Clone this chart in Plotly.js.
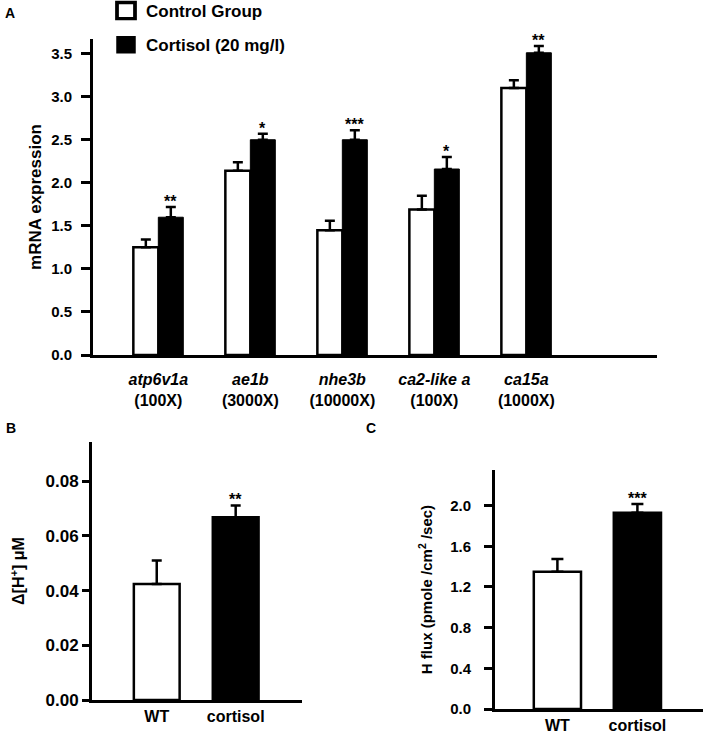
<!DOCTYPE html>
<html><head><meta charset="utf-8">
<script src="https://cdn.plot.ly/plotly-3.0.1.min.js"></script>
<style>body{margin:0;padding:0;background:#fff}#chart{width:708px;height:735px}</style>
</head><body><div id="chart"></div>
<script>
// Panel A data
const genes = ['atp6v1a','ae1b','nhe3b','ca2-like a','ca15a'];
const folds = ['(100X)','(3000X)','(10000X)','(100X)','(1000X)'];
const controlMean = [1.25,2.14,1.45,1.69,3.10];
const controlErr  = [0.09,0.10,0.11,0.16,0.09];
const cortisolMean = [1.60,2.50,2.50,2.16,3.51];
const cortisolErr  = [0.12,0.07,0.11,0.14,0.08];
const sigA = ['**','*','***','*','**'];
// Panel B data
const groupsBC = ['WT','cortisol'];
const hConc = [0.0424,0.0668];
const hConcErr = [0.0086,0.0043];
const sigB = ['','**'];
// Panel C data
const hFlux = [1.35,1.93];
const hFluxErr = [0.125,0.085];
const sigC = ['','***'];

const FONT = 'Liberation Sans, Arial, Helvetica, sans-serif';
const W = 708, H = 735;
const px = v => v / W, py = v => 1 - v / H;
const bfont = s => ({family: FONT, size: s, color: '#000', weight: 'bold'});
const zeros = n => new Array(n).fill(0);

const traces = [
  {type:'bar', name:'Control Group', x:genes, y:controlMean, xaxis:'x', yaxis:'y',
   marker:{color:'#fff', line:{color:'#000', width:2.5}},
   error_y:{type:'data', symmetric:false, array:controlErr, arrayminus:zeros(genes.length), color:'#000', thickness:2.5, width:5},
   legendgroup:'a'},
  {type:'bar', name:'Cortisol (20 mg/l)', x:genes, y:cortisolMean, xaxis:'x', yaxis:'y',
   marker:{color:'#000', line:{color:'#000', width:1}},
   error_y:{type:'data', symmetric:false, array:cortisolErr, arrayminus:zeros(genes.length), color:'#000', thickness:2.5, width:5},
   legendgroup:'b'},
  {type:'bar', x:groupsBC, y:hConc, xaxis:'x2', yaxis:'y2', width:0.58, showlegend:false,
   marker:{color:['#fff','#000'], line:{color:'#000', width:2.5}},
   error_y:{type:'data', symmetric:false, array:hConcErr, arrayminus:zeros(2), color:'#000', thickness:2.5, width:5}},
  {type:'bar', x:groupsBC, y:hFlux, xaxis:'x3', yaxis:'y3', width:0.59, showlegend:false,
   marker:{color:['#fff','#000'], line:{color:'#000', width:2.5}},
   error_y:{type:'data', symmetric:false, array:hFluxErr, arrayminus:zeros(2), color:'#000', thickness:2.5, width:6}}
];

const ann = [];
genes.forEach((g,i)=>{
  ann.push({x:i+0.135, y:cortisolMean[i]+cortisolErr[i], xref:'x', yref:'y', text:sigA[i], showarrow:false,
    yanchor:'bottom', font:bfont(16), yshift:-5});
});
groupsBC.forEach((g,i)=>{
  if(sigB[i]) ann.push({x:i, y:hConc[i]+hConcErr[i], xref:'x2', yref:'y2', text:sigB[i], showarrow:false, yanchor:'bottom', font:bfont(16), yshift:-5});
  if(sigC[i]) ann.push({x:i, y:hFlux[i]+hFluxErr[i], xref:'x3', yref:'y3', text:sigC[i], showarrow:false, yanchor:'bottom', font:bfont(16), yshift:-5});
});
ann.push({x:px(10), y:py(13), xref:'paper', yref:'paper', text:'A', showarrow:false, xanchor:'center', yanchor:'middle', font:bfont(14)});
ann.push({x:px(11), y:py(428), xref:'paper', yref:'paper', text:'B', showarrow:false, xanchor:'center', yanchor:'middle', font:bfont(14)});
ann.push({x:px(371), y:py(428), xref:'paper', yref:'paper', text:'C', showarrow:false, xanchor:'center', yanchor:'middle', font:bfont(14)});

const yAx = (extra) => Object.assign({
  showline:true, linecolor:'#000', linewidth:3, ticks:'outside', ticklen:9, tickwidth:3, tickcolor:'#000',
  showgrid:false, zeroline:false, fixedrange:true
}, extra);
const xAx = (extra) => Object.assign({
  showline:true, linecolor:'#000', linewidth:3, ticks:'', showgrid:false, zeroline:false, fixedrange:true, type:'category'
}, extra);

const layout = {
  width:W, height:H, margin:{l:0,r:0,t:0,b:0, autoexpand:false}, paper_bgcolor:'#fff', plot_bgcolor:'rgba(0,0,0,0)',
  font:{family:FONT, color:'#000'},
  barmode:'group', bargap:0.457, bargroupgap:0,
  showlegend:true,
  legend:{x:px(106), y:py(-7), xanchor:'left', yanchor:'top', font:bfont(17), bgcolor:'rgba(0,0,0,0)',
    traceorder:'grouped', tracegroupgap:9, itemwidth:30},
  xaxis: xAx({domain:[px(93), px(657)], anchor:'y', range:[-0.71,5.42], ticklabelstandoff:8,
    tickvals:genes, ticktext:genes.map((g,i)=>'<i>'+g+'</i><br>'+folds[i]), tickfont:bfont(16)}),
  yaxis: yAx({domain:[py(355), py(39)], anchor:'x', range:[0,3.67], dtick:0.5, tick0:0, tickformat:'.1f',
    ticklabelstandoff:6, tickfont:bfont(15), title:{text:'mRNA expression', font:bfont(17), standoff:6}}),
  xaxis2: xAx({domain:[px(92), px(302)], anchor:'y2', range:[-0.82,1.84], tickfont:bfont(16)}),
  yaxis2: yAx({domain:[py(700), py(442)], anchor:'x2', range:[0,0.0943], tickvals:[0,0.02,0.04,0.06,0.08], tickformat:'.2f',
    ticklen:7, tickfont:bfont(17), title:{text:'Δ[H<sup>+</sup>] μM', font:bfont(16), standoff:17}}),
  xaxis3: xAx({domain:[px(495), px(703)], anchor:'y3', range:[-0.78,1.82], tickfont:bfont(16)}),
  yaxis3: yAx({domain:[py(709), py(470)], anchor:'x3', range:[0,2.35], dtick:0.4, tick0:0, tickformat:'.1f',
    ticklen:8, ticklabelstandoff:10, tickfont:bfont(15), title:{text:'H flux (pmole /cm<sup>2</sup> /sec)', font:bfont(15), standoff:14}}),
  annotations: ann
};

Plotly.newPlot('chart', traces, layout, {displayModeBar:false, staticPlot:true}).then(()=>{
  document.querySelectorAll('.legend .legendpoints path').forEach(p=>{
    const t = p.getAttribute('transform') || '';
    p.setAttribute('transform', t + ' scale(1.5,1.35)');
  });
});
</script>
</body></html>
